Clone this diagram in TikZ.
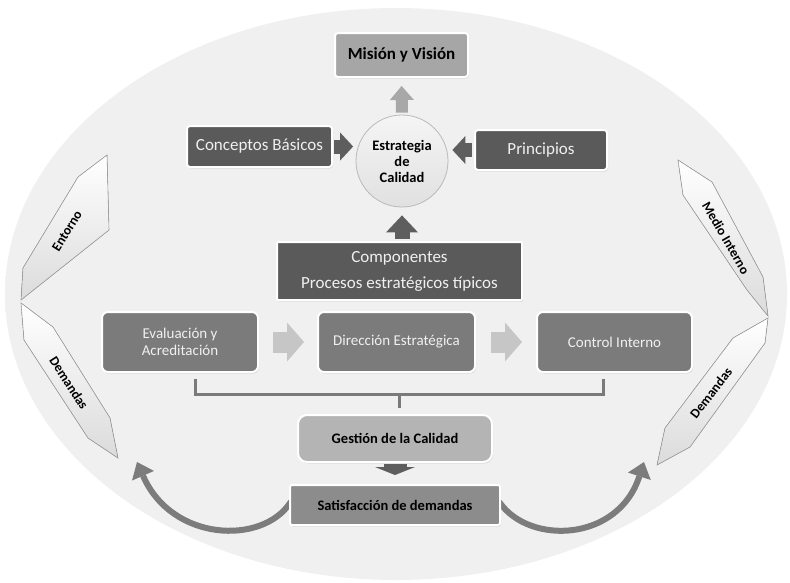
\documentclass[tikz,border=0pt]{standalone}
\usepackage{fontspec}
\setmainfont{Carlito}
\usetikzlibrary{arrows.meta,shadows,calc}

\definecolor{darkfill}{HTML}{5A5A5A}
\definecolor{midfill}{HTML}{7B7B7B}
\definecolor{lightfill}{HTML}{B4B4B4}
\definecolor{satfill}{HTML}{8C8C8C}
\definecolor{misfill}{HTML}{A6A6A6}
\definecolor{boxtext}{HTML}{F0F0F0}
\definecolor{darkarrow}{HTML}{5E5E5E}
\definecolor{lightarrow}{HTML}{C6C6C6}
\definecolor{misarrow}{HTML}{A8A8A8}
\definecolor{curvearrow}{HTML}{7C7C7C}
\definecolor{bracketcol}{HTML}{7A7A7A}
\definecolor{rimgray}{HTML}{DCDCDC}
\definecolor{innergray}{HTML}{F0F0F0}
\definecolor{taboutline}{HTML}{9C9C9C}

% flat centre, darker rim for the large ellipse
\pgfdeclareradialshading{rimshade}{\pgfpoint{0bp}{0bp}}{%
  color(0bp)=(innergray); color(43bp)=(innergray);
  color(50bp)=(rimgray)}

\tikzset{
  basebox/.style={draw=white, line width=2pt, rounded corners=3pt, inner sep=0pt,
    align=center, drop shadow={opacity=0.22, shadow xshift=1pt, shadow yshift=-1.5pt}},
  darkbox/.style={basebox, fill=darkfill, text=boxtext,
    font=\fontsize{17}{26}\selectfont},
  rowbox/.style={basebox, fill=midfill, text=boxtext, rounded corners=6pt,
    minimum width=156pt, minimum height=60pt, font=\fontsize{15}{17}\selectfont},
  blk/.style n args={3}{line width=#1,
    -{Triangle[length=#2, width=#3, line width=0pt]}},
  sidetab/.style={draw=taboutline, line width=0.6pt, top color=white,
    bottom color=gray!28},
  sidelabel/.style={font=\bfseries\fontsize{13.5}{14}\selectfont, inner sep=0pt},
}

\begin{document}
\begin{tikzpicture}[x=1pt, y=-1pt]
\useasboundingbox (0,0) rectangle (790,582);

% background ellipse
\shade[shading=rimshade] (396,294) ellipse [x radius=391pt, y radius=286pt];

% side tabs
\filldraw[sidetab] (107,155) -- (109,230) -- (21,300) -- (23,268) -- (78,177) -- cycle;
\filldraw[sidetab] (21,303) -- (53,327) -- (110,418) -- (118,458) -- (88,438) -- (24,340) -- cycle;
\filldraw[sidetab] (678,160) -- (712,182) -- (763,277) -- (768,316) -- (747,290) -- (683,195) -- cycle;
\filldraw[sidetab] (768,318) -- (765,343) -- (690,447) -- (657,465) -- (665,428) -- (733,338) -- cycle;

\node[sidelabel, rotate=58]  (entorno)  at (67,231)  {Entorno};
\node[sidelabel, rotate=-57] (demL)     at (69,383)  {Demandas};
\node[sidelabel, rotate=-60] (medio)    at (726,238) {Medio Interno};
\node[sidelabel, rotate=52]  (demR)     at (711,393) {Demandas};

\coordinate (lEnd) at (137,462);
\coordinate (rEnd) at (644,462);

% central elements
\node[basebox, fill=misfill, minimum width=133pt, minimum height=44pt,
      font=\bfseries\fontsize{17}{20}\selectfont] (mision) at (401.5,55) {Misión y Visión};

\node[circle, draw=gray!55, line width=0.8pt, top color=gray!8, bottom color=gray!24,
      minimum size=92pt, inner sep=0pt, align=center,
      font=\bfseries\fontsize{14.5}{16}\selectfont] (circ) at (402,161) {Estrategia\\de\\Calidad};

\node[darkbox, minimum width=145pt, minimum height=41pt] (concept) at (259.5,146.5) {Conceptos Básicos};
\node[darkbox, minimum width=132pt, minimum height=40pt] (princ) at (541,150) {Principios};
\node[darkbox, rounded corners=1pt, minimum width=245pt, minimum height=58pt] (comp) at (399.5,271)
  {Componentes\\Procesos estratégicos típicos};

\node[rowbox] (eval)  at (180,342)   {Evaluación y\\Acreditación};
\node[rowbox, minimum width=157pt] (direc) at (396.5,342) {Dirección Estratégica};
\node[rowbox, minimum width=155pt] (ctrl)  at (614.5,342) {Control Interno};

% bracket gathering the three processes
\coordinate (brL) at ($(eval.south)+(15,6)$);
\coordinate (brR) at ($(ctrl.south)+(-11.5,6)$);
\coordinate (brM) at (399,394);
\draw[bracketcol, line width=3pt] (brL) -- (brL |- brM) -- (brR |- brM) -- (brR);

% curved arrows out of the result box
\draw[curvearrow, line width=6pt, -{Triangle[length=15pt, width=24pt, line width=0pt]}]
  (395,503) -- (290,503) .. controls (262,545) and (172,542) .. (lEnd);
\draw[curvearrow, line width=6pt, -{Triangle[length=15pt, width=24pt, line width=0pt]}]
  (395,503) -- (500,503) .. controls (530,545) and (618,542) .. (rEnd);

\node[basebox, fill=lightfill, rounded corners=9pt, minimum width=194pt, minimum height=47pt,
      font=\bfseries\fontsize{14.5}{17}\selectfont] (gest) at (395,438.5) {Gestión de la Calidad};
\draw[bracketcol, line width=3pt, shorten >=6pt] (brM) -- (brM |- gest.north);

\node[basebox, fill=satfill, rounded corners=2pt, minimum width=210pt, minimum height=40pt,
      font=\bfseries\fontsize{14.5}{17}\selectfont] (sat) at (395,505) {Satisfacción de demandas};

% block arrows
\draw[misarrow, blk={12pt}{14pt}{24pt}, shorten <=2pt, shorten >=8pt] (circ.north) -- (mision.south);
\draw[darkarrow, blk={14pt}{13pt}{28pt}, shorten <=1pt, shorten >=2.5pt]
  (concept.east) -- (concept.east -| circ.west);
\draw[darkarrow, blk={14pt}{13pt}{28pt}, shorten <=2pt, shorten >=4pt]
  (princ.west) -- (princ.west -| circ.east);
\draw[darkarrow, blk={15pt}{17pt}{32pt}, shorten <=2pt, shorten >=8pt]
  (circ.south |- comp.north) -- (circ.south);
\draw[lightarrow, blk={21pt}{17pt}{39pt}, shorten <=14pt, shorten >=13pt] (eval.east) -- (direc.west);
\draw[lightarrow, blk={21pt}{17pt}{39pt}, shorten <=15pt, shorten >=14pt] (direc.east) -- (ctrl.west);
\draw[darkarrow, blk={23pt}{8pt}{40pt}, shorten <=1pt, shorten >=9pt] (gest.south) -- (sat.north);

\end{tikzpicture}
\end{document}
